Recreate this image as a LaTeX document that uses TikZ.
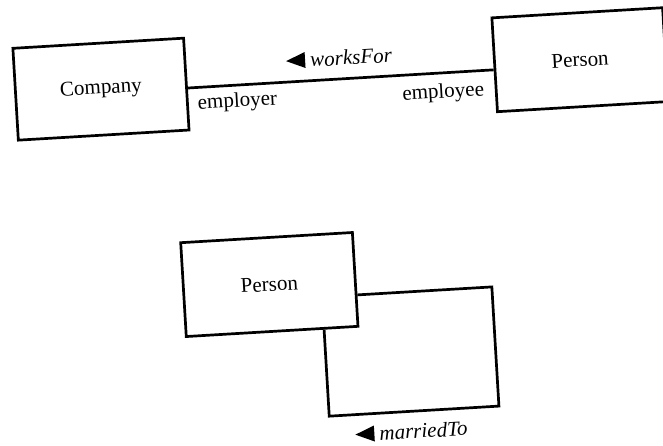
\documentclass[tikz,border=0pt]{standalone}
\usepackage{fontspec}
\setmainfont{Liberation Serif}
\begin{document}
\begin{tikzpicture}[x=1pt,y=1pt,
  classbox/.style={draw, line width=2.7pt, minimum height=94pt, inner sep=0pt,
    font=\fontsize{21}{24}\selectfont},
  assoc/.style={line width=2.7pt},
  lbl/.style={inner sep=1pt, font=\fontsize{21}{24}\selectfont},
  rolelbl/.style={lbl},
  namelbl/.style={lbl, font=\fontsize{21}{24}\selectfont\itshape}]
\useasboundingbox (0,0) rectangle (663,-445);
\begin{scope}[rotate=3.4, transform shape]
  % employment association
  \node[classbox, minimum width=171pt, minimum height=92pt] (company) at (95.5,-95) {Company};
  \node[classbox, minimum width=171pt] (person) at (575.5,-94) {Person};
  \draw[assoc] ([yshift=-4pt]company.east) -- ([yshift=-4pt]company.east -| person.west);
  \node[namelbl, anchor=west] (worksfor) at (305,-78) {worksFor};
  \fill ([shift={(-4pt,8pt)}]worksfor.west) -- ++(0,-16pt) -- ++(-19pt,8pt) -- cycle;
  \node[rolelbl] (employer) at (231,-116) {employer};
  \node[rolelbl] (employee) at (437,-119) {employee};

  % marriage self-association
  \node[classbox, minimum width=172pt] (spouse) at (252,-300) {Person};
  \coordinate (loopcorner) at (474,-435);
  \draw[assoc] ([yshift=-15.6pt]spouse.east) -| (loopcorner) -| ([xshift=52pt]spouse.south);
  \node[namelbl, anchor=west] (married) at (352,-455) {marriedTo};
  \fill ([shift={(-4pt,8pt)}]married.west) -- ++(0,-16pt) -- ++(-19pt,8pt) -- cycle;
\end{scope}
\end{tikzpicture}
\end{document}
